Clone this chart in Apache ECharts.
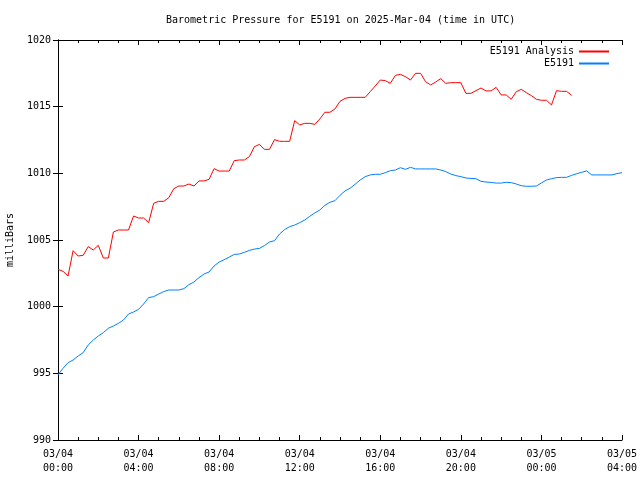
<!DOCTYPE html>
<html>
<head>
<meta charset="utf-8">
<script src="https://cdn.jsdelivr.net/npm/echarts@6/dist/echarts.min.js"></script>
<style>html,body{margin:0;padding:0;background:#fff}#c{width:640px;height:480px}</style>
</head>
<body>
<div id="c"></div>
<script>
// 15-minute samples starting 2025-03-04 00:00 UTC
const analysisValues = [
 1002.8,1002.65,1002.3,1004.2,1003.8,1003.85,1004.5,1004.25,1004.6,1003.65,
 1003.65,1005.6,1005.75,1005.75,1005.75,1006.8,1006.65,1006.65,1006.3,1007.75,
 1007.9,1007.9,1008.17,1008.85,1009.05,1009.05,1009.2,1009.05,1009.43,1009.43,
 1009.55,1010.35,1010.17,1010.17,1010.17,1010.95,1011.0,1011.0,1011.25,1012.0,
 1012.17,1011.8,1011.8,1012.53,1012.4,1012.4,1012.4,1013.95,1013.63,1013.75,
 1013.75,1013.67,1014.08,1014.58,1014.58,1014.83,1015.4,1015.62,1015.7,1015.7,
 1015.7,1015.7,1016.12,1016.55,1017.0,1016.95,1016.75,1017.35,1017.42,1017.25,
 1017.0,1017.5,1017.5,1016.87,1016.63,1016.85,1017.1,1016.75,1016.8,1016.8,
 1016.8,1016.0,1016.0,1016.2,1016.4,1016.18,1016.18,1016.45,1015.88,1015.88,
 1015.55,1016.12,1016.3,1016.05,1015.83,1015.55,1015.48,1015.48,1015.13,1016.2,
 1016.15,1016.15,1015.85
];
const stationValues = [
 994.88,995.38,995.8,996.0,996.3,996.55,997.13,997.5,997.8,998.05,
 998.38,998.55,998.75,999.0,999.45,999.6,999.8,1000.2,1000.68,1000.75,
 1000.95,1001.13,1001.25,1001.25,1001.25,1001.35,1001.65,1001.85,1002.18,1002.45,
 1002.6,1003.05,1003.35,1003.52,1003.72,1003.92,1003.95,1004.07,1004.22,1004.32,
 1004.37,1004.58,1004.85,1004.95,1005.45,1005.78,1006.0,1006.12,1006.3,1006.5,
 1006.78,1007.03,1007.25,1007.6,1007.83,1007.95,1008.35,1008.68,1008.88,1009.18,
 1009.5,1009.75,1009.88,1009.93,1009.93,1010.05,1010.2,1010.25,1010.42,1010.3,
 1010.45,1010.33,1010.33,1010.33,1010.33,1010.33,1010.25,1010.13,1009.95,1009.83,
 1009.75,1009.65,1009.62,1009.6,1009.4,1009.35,1009.32,1009.27,1009.27,1009.33,
 1009.3,1009.2,1009.07,1009.03,1009.03,1009.05,1009.28,1009.5,1009.6,1009.68,
 1009.7,1009.7,1009.85,1009.97,1010.08,1010.18,1009.88,1009.88,1009.88,1009.88,
 1009.88,1009.98,1010.05
];
const stepHours = 0.25;
const seriesNames = ['E5191 Analysis', 'E5191'];
const seriesColors = ['#ff0000', '#0080ff'];
const titleText = 'Barometric Pressure for E5191 on 2025-Mar-04 (time in UTC)';
const yName = 'milliBars';

const FONT = 'DejaVu Sans Mono';
function toPairs(vals) { return vals.map((v, i) => [i * stepHours, v]); }
function fmtX(h) {
  const day = 4 + Math.floor(h / 24);
  const hh = Math.round(h % 24);
  return '03/' + String(day).padStart(2, '0') + '\n' + String(hh).padStart(2, '0') + ':00';
}
const baseX = {
  type: 'value', min: 0, max: 28, interval: 4,
  axisLine: { show: true, lineStyle: { color: '#000', width: 1 } },
  axisTick: { show: true, inside: true, length: 5, lineStyle: { color: '#000' } },
  minorTick: { show: true, splitNumber: 4, length: 3, lineStyle: { color: '#000' } },
  splitLine: { show: false }, minorSplitLine: { show: false }
};
const baseY = {
  type: 'value', min: 990, max: 1020, interval: 5,
  axisLine: { show: true, lineStyle: { color: '#000', width: 1 } },
  axisTick: { show: true, inside: true, length: 5, lineStyle: { color: '#000' } },
  splitLine: { show: false }
};
const chart = echarts.init(document.getElementById('c'), null, { renderer: 'canvas' });
chart.setOption({
  animation: false,
  backgroundColor: '#fff',
  title: { text: titleText, left: 161, top: 10,
    textStyle: { fontFamily: FONT, fontSize: 10, fontWeight: 'normal', color: '#000' } },
  legend: {
    orient: 'vertical', right: 26, top: 41, align: 'right', itemGap: 1,
    itemWidth: 30, itemHeight: 2, icon: 'rect',
    textStyle: { fontFamily: FONT, fontSize: 10, color: '#000', lineHeight: 11 },
    data: seriesNames
  },
  grid: { left: 58, right: 18, top: 40, bottom: 40, containLabel: false, outerBoundsMode: 'none' },
  xAxis: [
    Object.assign({}, baseX, { position: 'bottom',
      axisLabel: { show: true, formatter: fmtX, fontFamily: FONT, fontSize: 10, color: '#000', margin: 7, lineHeight: 14 } }),
    Object.assign({}, baseX, { position: 'top', axisLabel: { show: false } })
  ],
  yAxis: [
    Object.assign({}, baseY, { position: 'left', name: yName, nameLocation: 'middle', nameGap: 43, nameRotate: 90,
      nameTextStyle: { fontFamily: FONT, fontSize: 10, color: '#000' },
      axisLabel: { fontFamily: FONT, fontSize: 10, color: '#000', margin: 7, formatter: v => String(v) } }),
    Object.assign({}, baseY, { position: 'right', axisLabel: { show: false } })
  ],
  series: [
    { name: seriesNames[0], type: 'line', data: toPairs(analysisValues), showSymbol: false, symbol: 'none',
      lineStyle: { color: seriesColors[0], width: 1 }, itemStyle: { color: seriesColors[0] } },
    { name: seriesNames[1], type: 'line', data: toPairs(stationValues), showSymbol: false, symbol: 'none',
      lineStyle: { color: seriesColors[1], width: 1 }, itemStyle: { color: seriesColors[1] } }
  ]
});
</script>
</body>
</html>
